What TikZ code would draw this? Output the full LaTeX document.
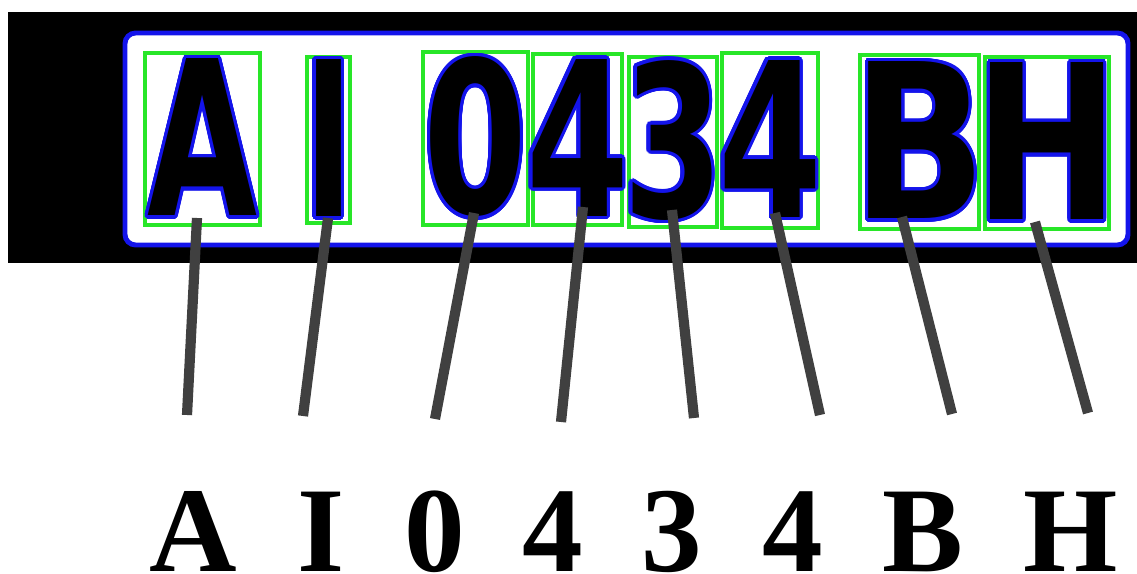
\documentclass[tikz,border=0pt]{standalone}
\usepackage{fontspec}
\setmainfont{Liberation Serif}
\newfontfamily\platefont{DejaVu Sans}
\usepackage{graphicx}
\usepackage[copies]{contour}
\contourlength{1.9pt}
\contournumber{24}
\definecolor{plategreen}{RGB}{40,230,40}
\definecolor{plateblue}{RGB}{20,20,235}
\definecolor{stemgray}{RGB}{64,64,64}
% plate character: width, height, glyph
\newcommand{\platechar}[3]{\makebox[0pt][c]{\contour{plateblue}{\resizebox{#1}{#2}{\platefont\bfseries #3}}}}

\begin{document}
\begin{tikzpicture}[
  x=0.02cm, y=-0.02cm,
  glyph/.style={draw=plategreen, line width=2.3pt, inner sep=0pt},
  stem/.style={draw=stemgray, line width=5.8pt},
  lbl/.style={font=\fontsize{69}{69}\selectfont\bfseries, anchor=base, inner sep=0pt},
]
\useasboundingbox (0,0) rectangle (1137,574);

% ── Plate background ───────────────────────────────
\fill[black] (8,12) rectangle (1137,263);
\draw[plateblue, line width=2.8pt, fill=white, rounded corners=6pt]
  (125,33) rectangle (1128,245);

% ── Segmented characters ───────────────────────────
\node[glyph, minimum width=2.30cm, minimum height=3.44cm] (gA)  at (202.5,139)  {\platechar{2.20cm}{3.14cm}{A}};
\node[glyph, minimum width=0.86cm, minimum height=3.32cm] (gI)  at (328.5,140)  {\platechar{0.98cm}{3.14cm}{I}};
\node[glyph, minimum width=2.10cm, minimum height=3.46cm] (g0)  at (475.5,138.5){\platechar{2.08cm}{3.14cm}{0}};
\node[glyph, minimum width=1.78cm, minimum height=3.42cm] (g4a) at (577.5,139.5){\platechar{2.06cm}{3.14cm}{4}};
\node[glyph, minimum width=1.76cm, minimum height=3.40cm] (g3)  at (673,142)    {\platechar{2.00cm}{3.14cm}{3}};
\node[glyph, minimum width=1.92cm, minimum height=3.50cm] (g4b) at (770,140.5)  {\platechar{2.08cm}{3.14cm}{4}};
\node[glyph, minimum width=2.38cm, minimum height=3.48cm] (gB)  at (919.5,142)  {\platechar{2.68cm}{3.14cm}{B}};
\node[glyph, minimum width=2.48cm, minimum height=3.44cm] (gH)  at (1047,143)   {\platechar{2.90cm}{3.14cm}{H}};

% ── Recognised labels ──────────────────────────────
\node[lbl] (lA)  at (193,571)  {A};
\node[lbl] (lI)  at (321,571)  {I};
\node[lbl] (l0)  at (435,571)  {0};
\node[lbl] (l4a) at (553,571)  {4};
\node[lbl] (l3)  at (672,571)  {3};
\node[lbl] (l4b) at (793,571)  {4};
\node[lbl] (lB)  at (923,571)  {B};
\node[lbl] (lH)  at (1071,571) {H};

% ── Stem ends ──────────────────────────────────────
\coordinate (tA)  at (197,218);  \coordinate (bA)  at (187,415);
\coordinate (tI)  at (328,218);  \coordinate (bI)  at (303,416);
\coordinate (t0)  at (474,213);  \coordinate (b0)  at (435,419);
\coordinate (t4a) at (583,207);  \coordinate (b4a) at (561,422);
\coordinate (t3)  at (672,210);  \coordinate (b3)  at (694,418);
\coordinate (t4b) at (775,213);  \coordinate (b4b) at (820,415);
\coordinate (tB)  at (902,217);  \coordinate (bB)  at (952,414);
\coordinate (tH)  at (1035,222); \coordinate (bH)  at (1088,413);

% ── Stems ──────────────────────────────────────────
\draw[stem] (tA)--(bA);
\draw[stem] (tI)--(bI);
\draw[stem] (t0)--(b0);
\draw[stem] (t4a)--(b4a);
\draw[stem] (t3)--(b3);
\draw[stem] (t4b)--(b4b);
\draw[stem] (tB)--(bB);
\draw[stem] (tH)--(bH);

\end{tikzpicture}
\end{document}
